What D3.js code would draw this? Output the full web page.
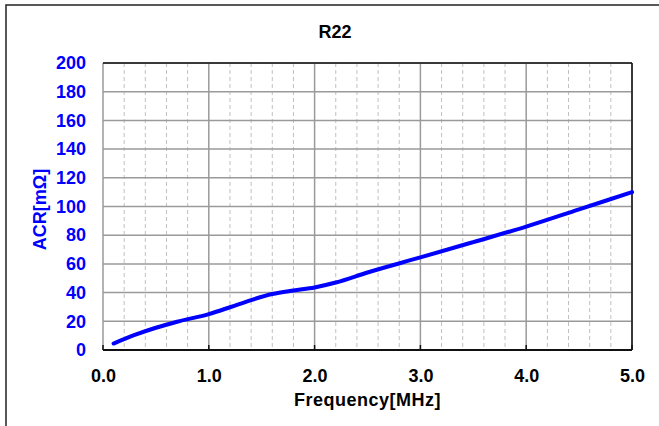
<!DOCTYPE html>
<html><head><meta charset="utf-8">
<script src="https://cdn.jsdelivr.net/npm/d3@7"></script>
<style>body{margin:0;background:#fff}svg{display:block}text{font-family:"Liberation Sans",Arial,sans-serif;font-weight:bold}</style>
</head><body>
<script>
const title = "R22";
const xLabel = "Frequency[MHz]";
const yLabel = "ACR[mΩ]";
const freq = [0.1,0.3,0.5,0.7,1.0,1.2,1.4,1.6,1.8,2.0,2.2,2.5,3.0,3.5,4.0,4.5,5.0];
const acr  = [4.5,10.5,15.5,19.7,25,29.8,34.8,39,41.5,43.6,47,54,64.5,75.2,86,98,110];
const xTicks = [0,1,2,3,4,5];
const yTicks = [0,20,40,60,80,100,120,140,160,180,200];

const W=659,H=426;
const m={l:103,t:63,r:632,b:350};
const svg=d3.select("body").append("svg").attr("width",W).attr("height",H);
svg.append("rect").attr("x",6).attr("y",5).attr("width",W).attr("height",H).attr("fill","#fff").attr("stroke","#222").attr("stroke-width",1.5);

const x=d3.scaleLinear().domain([0,5]).range([m.l,m.r]);
const y=d3.scaleLinear().domain([0,200]).range([m.b,m.t]);

const minor=d3.range(0,5.0001,0.2).filter(v=>Math.abs(v-Math.round(v))>1e-6);
svg.append("g").selectAll("line").data(minor).join("line")
 .attr("x1",d=>x(d)).attr("x2",d=>x(d)).attr("y1",m.t).attr("y2",m.b)
 .attr("stroke","#c0c0c0").attr("stroke-width",1).attr("stroke-dasharray","4,3");
svg.append("g").selectAll("line").data(yTicks).join("line")
 .attr("x1",m.l).attr("x2",m.r).attr("y1",d=>y(d)).attr("y2",d=>y(d))
 .attr("stroke","#9a9a9a").attr("stroke-width",1.5);
svg.append("g").selectAll("line").data(xTicks).join("line")
 .attr("x1",d=>x(d)).attr("x2",d=>x(d)).attr("y1",m.t).attr("y2",m.b)
 .attr("stroke","#9a9a9a").attr("stroke-width",1.5);
svg.append("line").attr("x1",m.l).attr("x2",m.r).attr("y1",m.t).attr("y2",m.t).attr("stroke","#111").attr("stroke-width",1.5);
svg.append("line").attr("x1",m.r).attr("x2",m.r).attr("y1",m.t).attr("y2",m.b).attr("stroke","#111").attr("stroke-width",1.5);
svg.append("line").attr("x1",m.l).attr("x2",m.r).attr("y1",m.b).attr("y2",m.b).attr("stroke","#111").attr("stroke-width",2);
svg.append("g").selectAll("line").data(xTicks).join("line")
 .attr("x1",d=>x(d)).attr("x2",d=>x(d)).attr("y1",m.b).attr("y2",m.b-5)
 .attr("stroke","#111").attr("stroke-width",1.5);

const xa=d3.axisBottom(x).tickValues(xTicks).tickFormat(d3.format(".1f")).tickSize(0).tickPadding(19);
const gx=svg.append("g").attr("transform",`translate(0,${m.b})`).call(xa);
gx.select(".domain").remove();
gx.selectAll("text").attr("font-size",18).attr("font-family","Liberation Sans, Arial, sans-serif").attr("font-weight","bold").attr("fill","#000");
const ya=d3.axisLeft(y).tickValues(yTicks).tickSize(0).tickPadding(17);
const gy=svg.append("g").attr("transform",`translate(${m.l},0)`).call(ya);
gy.select(".domain").remove();
gy.selectAll("text").attr("font-size",18).attr("font-family","Liberation Sans, Arial, sans-serif").attr("font-weight","bold").attr("fill","#0000ff");

const line=d3.line().x((d,i)=>x(freq[i])).y(d=>y(d)).curve(d3.curveMonotoneX);
svg.append("path").datum(acr).attr("d",line).attr("fill","none").attr("stroke","#0000ff").attr("stroke-width",4).attr("stroke-linecap","round");

svg.append("text").attr("x",335).attr("y",38).attr("text-anchor","middle").attr("font-size",18).attr("fill","#000").text(title);
svg.append("text").attr("x",(m.l+m.r)/2).attr("y",406).attr("text-anchor","middle").attr("font-size",18).attr("letter-spacing",0.5).attr("fill","#000").text(xLabel);
svg.append("text").attr("transform",`translate(46,${(m.t+m.b)/2+3}) rotate(-90)`).attr("text-anchor","middle").attr("font-size",18).attr("fill","#0000ff").text(yLabel);
</script>
</body></html>
